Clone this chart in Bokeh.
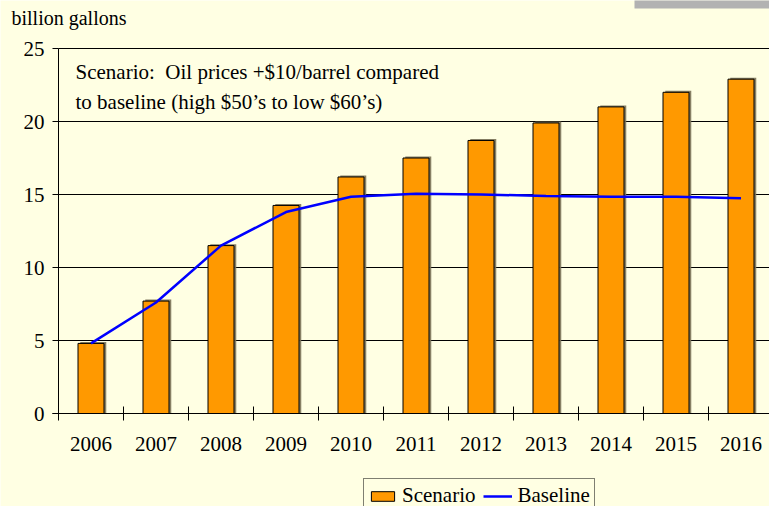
from bokeh.plotting import figure
from bokeh.models import (ColumnDataSource, Range1d, FixedTicker, Legend, LegendItem,
                          Label, BoxAnnotation)
from bokeh.transform import dodge
from bokeh.embed import file_html
from bokeh.resources import INLINE

years = [2006, 2007, 2008, 2009, 2010, 2011, 2012, 2013, 2014, 2015, 2016]
scenario = [4.8, 7.7, 11.5, 14.25, 16.2, 17.5, 18.7, 19.9, 21.0, 22.0, 22.9]
baseline = [4.8, 7.6, 11.5, 13.8, 14.85, 15.05, 15.0, 14.9, 14.85, 14.85, 14.75]
y_ticks = [0, 5, 10, 15, 20, 25]
y_label = "billion gallons"
note_lines = ["Scenario:\u00a0 Oil prices +$10/barrel compared",
              "to baseline (high $50\u2019s to low $60\u2019s)"]

BG = "#FFFFE3"
FONT = "Liberation Serif"
FS = "21px"

W, H = 769, 506
X0, Y0 = 58, 413          # pixel position of (2005.5, 0)
PX_X, PX_Y = 65.0, 14.6   # pixels per unit

x_start = 2005.5 - X0 / PX_X
x_end = 2005.5 + (W - X0) / PX_X
y_start = -(H - Y0) / PX_Y
y_end = Y0 / PX_Y

src = ColumnDataSource(dict(year=years, scenario=scenario, baseline=baseline))

p = figure(width=W, height=H, output_backend="svg", toolbar_location=None,
           x_range=Range1d(x_start, x_end), y_range=Range1d(y_start, y_end),
           min_border=0, min_border_left=0, min_border_right=0,
           min_border_top=0, min_border_bottom=0)
p.background_fill_color = BG
p.border_fill_color = BG
p.outline_line_color = None

# axes (fixed inside the frame)
xa = p.xaxis[0]
xa.fixed_location = 0
xa.bounds = (2005.5 - 6 / PX_X, x_end)
xa.ticker = FixedTicker(ticks=years, minor_ticks=[y - 0.5 for y in years] + [years[-1] + 0.5])
xa.major_tick_line_color = None
xa.major_tick_out = 0
xa.major_tick_in = 0
xa.minor_tick_line_color = "black"
xa.minor_tick_out = 7
xa.minor_tick_in = 7
xa.major_label_standoff = 16
xa.major_label_text_font = FONT
xa.major_label_text_font_size = FS
xa.major_label_text_color = "black"
xa.axis_line_color = "black"

ya = p.yaxis[0]
ya.fixed_location = 2005.5
ya.bounds = (0, 25)
ya.ticker = FixedTicker(ticks=y_ticks)
ya.minor_tick_line_color = None
ya.major_tick_out = 6
ya.major_tick_in = 0
ya.major_tick_line_color = "black"
ya.major_label_standoff = 8
ya.major_label_text_font = FONT
ya.major_label_text_font_size = FS
ya.major_label_text_color = "black"
ya.axis_line_color = "black"

p.xgrid.visible = False
p.ygrid.ticker = FixedTicker(ticks=y_ticks)
p.ygrid.bounds = (0, 25)
p.ygrid.cross_bounds = (2005.5, x_end)
p.ygrid.grid_line_color = "black"
p.ygrid.grid_line_width = 1

# bars with shadow, and line
p.vbar(x=dodge('year', 0.035), top=dodge('scenario', 0.1), width=0.4, source=src,
       fill_color="#7a7256", line_color=None, fill_alpha=0.9)
bars = p.vbar(x='year', top='scenario', width=0.4, source=src,
              fill_color="#FF9900", line_color="black", line_width=1)
line = p.line(x='year', y='baseline', source=src, line_color="#0000FF", line_width=2.5)

# texts
p.add_layout(Label(x=11, y=H - 17, x_units="screen", y_units="screen", text=y_label,
                   text_font=FONT, text_font_size="20px", text_color="black",
                   text_baseline="middle"))
for i, t in enumerate(note_lines):
    p.add_layout(Label(x=75, y=H - 71 - 30 * i, x_units="screen", y_units="screen", text=t,
                       text_font=FONT, text_font_size=FS, text_color="black",
                       text_baseline="middle"))

# grey strip at top right
p.add_layout(BoxAnnotation(left=634, right=W + 5, top=H + 5, bottom=H - 8,
                           left_units="screen", right_units="screen",
                           top_units="screen", bottom_units="screen",
                           fill_color="#B2B2B2", fill_alpha=1, line_color=None))

legend = Legend(items=[LegendItem(label="Scenario", renderers=[bars]),
                       LegendItem(label="Baseline", renderers=[line])],
                location=(363, -7), orientation="horizontal",
                glyph_width=29, glyph_height=12, label_standoff=5, spacing=8,
                padding=4, margin=0,
                label_text_font=FONT, label_text_font_size=FS,
                label_text_color="black",
                border_line_color="black", border_line_width=1,
                background_fill_color=BG, background_fill_alpha=1)
p.add_layout(legend, "center")

open("out.html", "w").write(file_html(p, INLINE))
